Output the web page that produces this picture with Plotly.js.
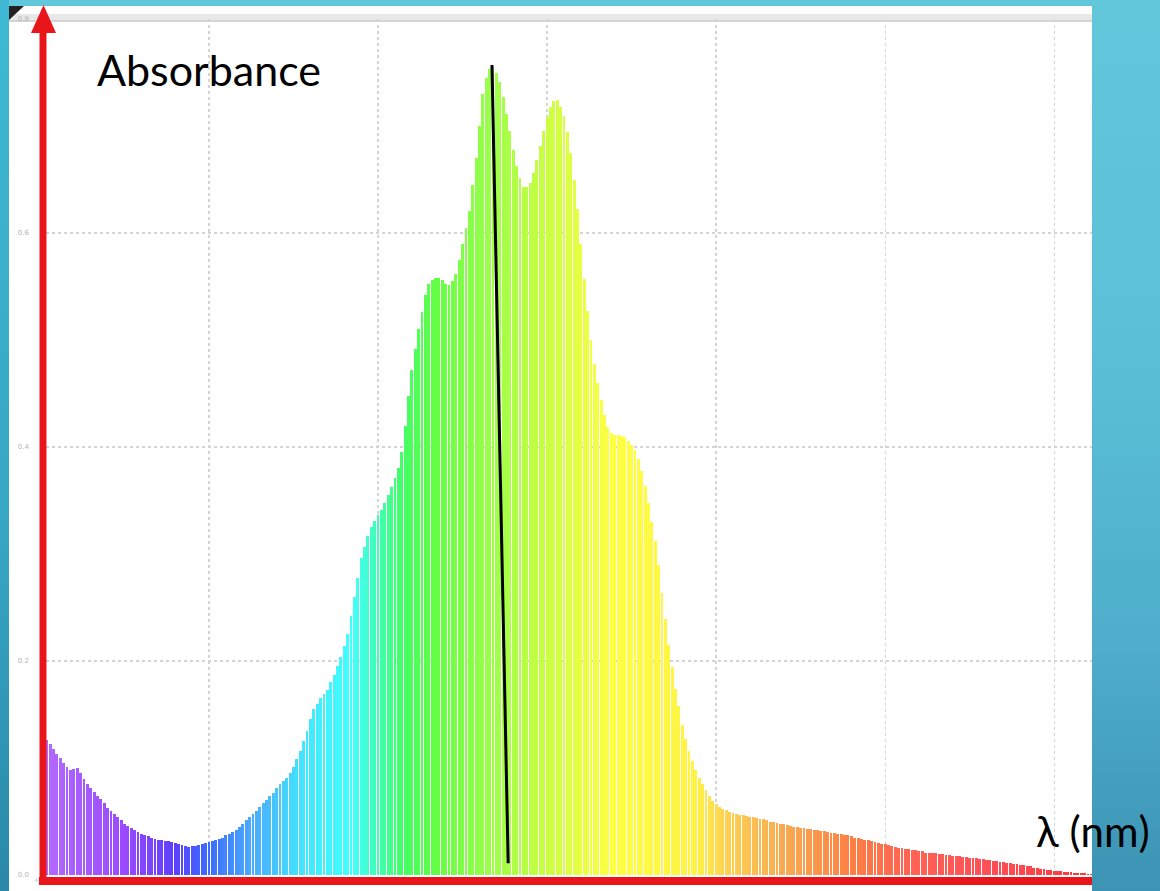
<!DOCTYPE html>
<html><head><meta charset="utf-8">
<script src="https://cdn.plot.ly/plotly-3.0.1.min.js"></script>
<style>
html,body{margin:0;padding:0;width:1160px;height:891px;overflow:hidden;}
body{background:linear-gradient(to bottom,#62c7db 0%,#5bbfd7 40%,#4eaecb 72%,#3c93b3 100%);}
#strip{position:absolute;left:0;top:0;width:9px;height:891px;background:linear-gradient(to bottom,#3fb9d3 0%,#36a6c4 60%,#2a88a8 100%);}
#chart{position:absolute;left:0;top:0;width:1160px;height:891px;}
</style></head><body><div id="strip"></div><div id="chart"></div>
<script>
// Wavelength (nm) of each bar
const wavelengths = [
401,402,403,404,405,406,407,408,409,410,411,412,413,414,415,416,417,418,419,420,
421,422,423,424,425,426,427,428,429,430,431,432,433,434,435,436,437,438,439,440,
441,442,443,444,445,446,447,448,449,450,451,452,453,454,455,456,457,458,459,460,
461,462,463,464,465,466,467,468,469,470,471,472,473,474,475,476,477,478,479,480,
481,482,483,484,485,486,487,488,489,490,491,492,493,494,495,496,497,498,499,500,
501,502,503,504,505,506,507,508,509,510,511,512,513,514,515,516,517,518,519,520,
521,522,523,524,525,526,527,528,529,530,531,532,533,534,535,536,537,538,539,540,
541,542,543,544,545,546,547,548,549,550,551,552,553,554,555,556,557,558,559,560,
561,562,563,564,565,566,567,568,569,570,571,572,573,574,575,576,577,578,579,580,
581,582,583,584,585,586,587,588,589,590,591,592,593,594,595,596,597,598,599,600,
601,602,603,604,605,606,607,608,609,610,611,612,613,614,615,616,617,618,619,620,
621,622,623,624,625,626,627,628,629,630,631,632,633,634,635,636,637,638,639,640,
641,642,643,644,645,646,647,648,649,650,651,652,653,654,655,656,657,658,659,660,
661,662,663,664,665,666,667,668,669,670,671,672,673,674,675,676,677,678,679,680,
681,682,683,684,685,686,687,688,689,690,691,692,693,694,695,696,697,698,699,700,
701,702,703,704,705,706,707,708,709,710,711];
// Absorbance
const absorbance = [
0.128,0.126,0.122,0.118,0.113,0.109,0.105,0.101,0.098,0.099,
0.100,0.095,0.090,0.085,0.081,0.078,0.074,0.071,0.067,0.063,
0.060,0.057,0.054,0.051,0.048,0.046,0.044,0.042,0.040,0.038,
0.037,0.036,0.035,0.034,0.033,0.033,0.032,0.032,0.031,0.030,
0.029,0.028,0.027,0.026,0.027,0.027,0.028,0.029,0.030,0.031,
0.032,0.033,0.034,0.035,0.037,0.038,0.040,0.042,0.045,0.048,
0.051,0.054,0.057,0.060,0.064,0.067,0.070,0.074,0.077,0.081,
0.085,0.088,0.091,0.095,0.101,0.108,0.116,0.125,0.135,0.146,
0.155,0.160,0.165,0.169,0.173,0.180,0.187,0.195,0.204,0.214,
0.225,0.242,0.260,0.278,0.296,0.307,0.317,0.325,0.331,0.336,
0.341,0.348,0.355,0.363,0.371,0.380,0.395,0.420,0.448,0.472,
0.492,0.510,0.526,0.542,0.552,0.556,0.558,0.558,0.556,0.552,
0.551,0.555,0.562,0.575,0.590,0.605,0.621,0.645,0.670,0.700,
0.730,0.745,0.753,0.755,0.750,0.741,0.727,0.711,0.695,0.678,
0.663,0.651,0.643,0.643,0.647,0.656,0.668,0.681,0.695,0.708,
0.718,0.723,0.724,0.718,0.709,0.694,0.675,0.650,0.622,0.590,
0.557,0.527,0.500,0.478,0.460,0.444,0.430,0.419,0.413,0.411,
0.411,0.410,0.409,0.406,0.402,0.397,0.389,0.378,0.364,0.348,
0.330,0.312,0.290,0.264,0.239,0.215,0.194,0.174,0.158,0.140,
0.127,0.116,0.107,0.098,0.091,0.085,0.079,0.074,0.069,0.066,
0.064,0.062,0.061,0.059,0.058,0.057,0.056,0.056,0.055,0.054,
0.054,0.053,0.052,0.052,0.051,0.050,0.050,0.049,0.048,0.048,
0.047,0.046,0.045,0.045,0.044,0.044,0.043,0.043,0.042,0.042,
0.041,0.041,0.040,0.039,0.039,0.038,0.038,0.037,0.037,0.036,
0.035,0.035,0.034,0.033,0.033,0.032,0.031,0.030,0.029,0.029,
0.028,0.027,0.026,0.025,0.025,0.024,0.024,0.023,0.023,0.022,
0.022,0.021,0.021,0.021,0.021,0.020,0.020,0.019,0.019,0.018,
0.018,0.018,0.017,0.017,0.016,0.016,0.016,0.015,0.015,0.014,
0.014,0.013,0.013,0.012,0.012,0.011,0.011,0.010,0.010,0.009,
0.009,0.008,0.008,0.007,0.007,0.006,0.006,0.005,0.005,0.004,
0.004,0.004,0.003,0.003,0.003,0.002,0.002,0.002,0.002,0.001,
0.001];
// Hand-drawn peak marker line
const peakLineX = [533.7, 538.5];
const peakLineY = [0.757, 0.011];
const yTickVals = [0, 0.2, 0.4, 0.6, 0.8];
const yTickText = ['0.0','0.2','0.4','0.6','0.8'];
const xTickVals = [400,450,500,550,600,650,700];
const xTickText = ['400','450','500','550','600','650','700'];

// spectrum colours (style)
const WMIN = 400, WMAX = 712;
const stops = [[400,'#b46cff'],[425,'#9a4aff'],[440,'#5c40ff'],[450,'#3c6cff'],[462,'#4aa8ff'],
 [478,'#42e6ff'],[492,'#40ffff'],[500,'#40ffb4'],[507,'#42ff66'],[518,'#66ff44'],[532,'#98ff4a'],
 [548,'#c4ff42'],[560,'#e8ff42'],[570,'#ffff44'],[594,'#fff244'],[602,'#ffd452'],[620,'#f8aa52'],
 [640,'#ff8044'],[655,'#ff6652'],[680,'#ff5058'],[712,'#ff3434']];
const colorscale = stops.map(s => [(s[0]-WMIN)/(WMAX-WMIN), s[1]]);

const L=40, T=19, W=1052, H=856;
const px = X => (X-L)/W;
const py = Y => (T+H-Y)/H;

const traces = [
  {type:'bar', x:wavelengths, y:absorbance, width:0.85,
   marker:{color:wavelengths, colorscale:colorscale, cmin:WMIN, cmax:WMAX, line:{width:0}},
   hoverinfo:'skip'},
  {type:'scatter', mode:'lines', x:peakLineX, y:peakLineY,
   line:{color:'#000000', width:3}, hoverinfo:'skip'}
];

const shapes = [
  {type:'rect', xref:'paper', yref:'paper', x0:px(9), x1:px(1092), y0:py(896), y1:py(6),
   fillcolor:'#ffffff', line:{width:0}, layer:'below'},
  {type:'rect', xref:'paper', yref:'paper', x0:px(9), x1:px(1092), y0:py(22), y1:py(14),
   fillcolor:'#e8e8e8', line:{width:0}, layer:'below'},
  {type:'line', xref:'paper', yref:'paper', x0:px(9), x1:px(1092), y0:py(21), y1:py(21),
   line:{color:'#d4d4d4', width:2}, layer:'below'},
  {type:'path', xref:'paper', yref:'paper',
   path:`M ${px(9)} ${py(6)} L ${px(24)} ${py(6)} L ${px(9)} ${py(20)} Z`,
   fillcolor:'#222222', line:{width:0}, layer:'below'},
  {type:'line', xref:'paper', yref:'paper', x0:px(43), x1:px(43), y0:py(885), y1:py(28),
   line:{color:'#e8161b', width:7}},
  {type:'line', xref:'paper', yref:'paper', x0:px(39), x1:px(1092), y0:py(881), y1:py(881),
   line:{color:'#e8161b', width:8}},
  {type:'path', xref:'paper', yref:'paper',
   path:`M ${px(31)} ${py(33)} L ${px(56)} ${py(33)} L ${px(43.5)} ${py(5)} Z`,
   fillcolor:'#e8161b', line:{width:0}}
];

const layout = {
  width:1160, height:891,
  margin:{l:L, r:1160-L-W, t:T, b:891-T-H},
  paper_bgcolor:'rgba(0,0,0,0)', plot_bgcolor:'rgba(0,0,0,0)',
  showlegend:false, bargap:0,
  xaxis:{range:[400,711.2], tickvals:xTickVals, ticktext:xTickText, showgrid:true,
    gridcolor:'#d4d4d4', griddash:'dot', gridwidth:1.2, zeroline:false, showline:false,
    ticks:'', tickfont:{family:'DejaVu Sans', size:6, color:'#d0d0d0'}, fixedrange:true},
  yaxis:{range:[0,0.8], tickvals:yTickVals, ticktext:yTickText, showgrid:true,
    gridcolor:'#d4d4d4', griddash:'dot', gridwidth:1.2, zeroline:false, showline:false,
    ticks:'', ticklabelstandoff:10, tickfont:{family:'DejaVu Sans', size:7, color:'#b4b4b4'}, fixedrange:true},
  shapes:shapes,
  annotations:[
    {xref:'paper', yref:'paper', x:px(95), y:py(69), xanchor:'left', yanchor:'middle',
     text:'Absorbance', showarrow:false, font:{family:'Lato', size:43, color:'#000000'}},
    {xref:'paper', yref:'paper', x:px(1034), y:py(831), xanchor:'left', yanchor:'middle',
     text:'λ (nm)', showarrow:false, font:{family:'Lato', size:42, color:'#000000'}}
  ]
};

Plotly.newPlot('chart', traces, layout, {displayModeBar:false, staticPlot:true});
</script></body></html>
